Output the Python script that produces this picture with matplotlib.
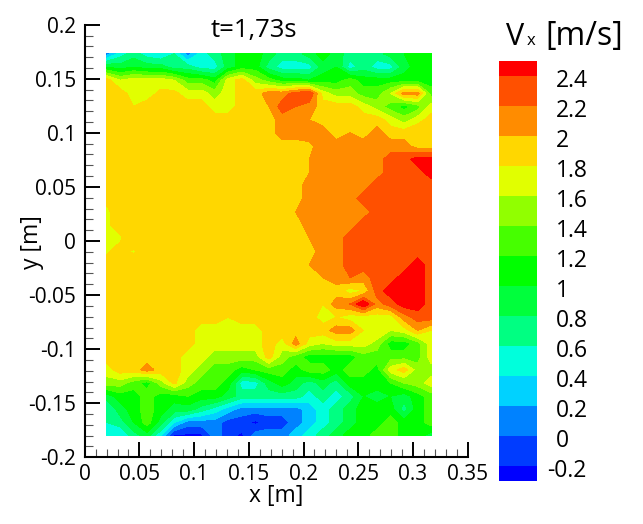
import matplotlib
matplotlib.use("Agg")
import matplotlib.pyplot as plt
from matplotlib.cm import ScalarMappable
from matplotlib.colors import BoundaryNorm, ListedColormap
import numpy as np

plt.rcParams['font.family'] = ['Open Sans', 'DejaVu Sans']

# Vx, top row first, left to right
vx_rows = [
    [0.1,0.5,0.7,0.5,0.4,0.6,0.1,0.5,0.7,0.9,1.1,1.1,0.9,0.7,0.7,0.9,1.1,0.9,0.7,0.7,0.7,0.9,1.0,1.1,1.1],
    [1.0,0.9,1.0,0.9,0.9,0.7,0.7,0.5,0.5,0.9,1.1,1.1,0.7,0.5,0.5,0.5,0.9,1.0,0.5,0.7,0.5,0.5,0.9,1.1,1.1],
    [1.9,1.6,1.7,1.7,1.7,1.6,1.3,1.3,1.1,1.7,1.9,1.5,1.3,1.1,1.1,1.0,1.1,1.1,1.3,1.1,1.1,1.1,1.1,1.1,1.1],
    [1.9,1.9,1.7,1.7,1.85,1.85,1.7,1.7,1.5,1.7,1.9,1.9,2.1,2.1,2.3,2.4,1.7,1.5,1.5,1.3,1.3,1.6,2.1,2.1,1.3],
    [1.9,1.9,1.8,1.9,1.9,1.9,1.9,1.9,1.7,1.7,1.9,1.9,2.0,2.3,2.2,2.1,1.9,1.9,1.9,1.7,1.5,1.3,1.1,1.3,1.7],
    [1.9,1.9,1.9,1.9,1.9,1.9,1.9,1.9,1.9,1.9,1.9,1.9,1.9,2.1,2.1,2.0,1.9,1.9,1.9,1.9,1.9,1.7,1.5,1.7,1.9],
    [1.9,1.9,1.85,1.9,1.9,1.9,1.9,1.9,1.9,1.9,1.9,1.9,1.9,2.1,2.1,2.1,2.1,1.9,2.0,1.9,2.1,1.9,1.9,2.0,1.9],
    [1.9,1.9,1.9,1.9,1.9,1.9,1.9,1.9,1.9,1.9,1.9,1.9,1.9,1.9,1.9,1.95,2.1,2.1,2.1,2.1,2.1,2.1,2.1,1.9,1.9],
    [1.9,1.9,1.9,1.9,1.9,1.9,1.9,1.9,1.9,1.9,1.9,1.9,1.9,1.9,1.9,2.0,2.1,2.1,2.1,2.1,2.1,2.3,2.3,2.5,2.5],
    [1.9,1.9,1.85,1.9,1.9,1.9,1.9,1.9,1.9,1.9,1.9,1.9,1.9,1.9,1.9,2.0,2.1,2.1,2.1,2.1,2.1,2.3,2.3,2.3,2.5],
    [1.85,1.9,1.9,1.9,1.9,1.9,1.9,1.9,1.9,1.9,1.9,1.9,1.9,1.9,1.9,2.1,2.1,2.1,2.1,2.1,2.3,2.3,2.3,2.3,2.3],
    [1.82,1.9,1.9,1.9,1.9,1.9,1.9,1.9,1.9,1.9,1.9,1.9,1.9,1.9,1.9,2.1,2.1,2.1,2.1,2.3,2.3,2.3,2.3,2.3,2.3],
    [1.78,1.85,1.9,1.9,1.9,1.9,1.9,1.9,1.9,1.9,1.9,1.9,1.9,1.9,2.0,2.1,2.1,2.1,2.1,2.1,2.3,2.3,2.3,2.3,2.3],
    [1.78,1.85,1.9,1.9,1.9,1.9,1.9,1.9,1.9,1.9,1.9,1.9,1.9,1.9,1.9,2.1,2.1,2.1,2.1,2.3,2.3,2.3,2.3,2.3,2.3],
    [1.78,1.78,1.9,1.9,1.9,1.9,1.9,1.9,1.9,1.9,1.9,1.9,1.9,1.9,1.9,2.0,2.1,2.1,2.3,2.3,2.3,2.3,2.3,2.3,2.3],
    [1.78,1.85,1.78,1.9,1.9,1.9,1.9,1.9,1.9,1.9,1.9,1.9,1.9,1.9,1.9,1.9,2.1,2.1,2.3,2.3,2.3,2.3,2.3,2.3,2.3],
    [1.85,1.9,1.9,1.9,1.9,1.9,1.9,1.9,1.9,1.9,1.9,1.9,1.9,1.9,1.9,2.0,2.1,2.1,2.3,2.3,2.3,2.3,2.3,2.5,2.3],
    [1.9,1.9,1.9,1.9,1.9,1.9,1.9,1.9,1.9,1.9,1.9,1.9,1.9,1.9,1.9,1.9,2.0,2.1,2.2,2.1,2.3,2.3,2.5,2.5,2.3],
    [1.9,1.9,1.85,1.9,1.9,1.9,1.9,1.9,1.9,1.9,1.9,1.9,1.9,1.9,1.9,1.9,1.9,1.9,1.7,1.8,2.3,2.5,2.5,2.5,2.3],
    [1.85,1.9,1.9,1.9,1.9,1.9,1.9,1.9,1.9,1.9,1.9,1.9,1.9,1.9,1.9,1.9,1.8,2.1,2.2,2.6,2.1,2.3,2.5,2.5,2.3],
    [1.9,1.9,1.9,1.9,1.9,1.9,1.9,1.9,1.9,1.8,1.9,1.9,1.9,1.9,1.9,1.9,1.7,1.8,1.7,1.7,1.7,1.7,2.1,2.3,2.3],
    [1.9,1.9,1.9,1.9,1.9,1.9,1.9,1.7,1.7,1.7,1.7,1.7,1.9,1.9,1.9,1.9,1.9,2.1,2.1,1.8,1.8,1.6,1.7,2.0,1.8],
    [1.9,1.9,1.9,1.9,1.9,1.9,1.9,1.7,1.7,1.7,1.7,1.7,1.9,1.7,2.1,1.7,1.6,1.7,1.7,1.7,1.5,1.1,1.1,1.3,1.7],
    [1.9,1.9,1.9,1.9,1.9,1.9,1.7,1.7,1.5,1.5,1.5,1.5,1.9,1.5,1.3,1.1,1.1,1.1,1.1,1.3,1.3,1.3,1.3,1.3,1.7],
    [1.7,1.9,1.9,2.1,1.9,1.9,1.7,1.5,1.3,1.3,1.1,1.2,1.3,1.3,1.1,1.3,1.3,1.1,1.3,1.3,1.1,1.7,1.9,1.5,1.5],
    [1.5,1.5,1.3,1.1,1.5,1.85,1.5,1.3,1.3,1.1,0.5,0.5,0.9,1.1,0.9,0.7,0.9,0.7,1.1,1.1,1.1,1.2,1.4,1.5,1.7],
    [0.9,1.1,1.1,1.3,1.1,1.1,1.2,1.1,1.1,0.9,0.7,0.7,0.7,0.7,0.7,0.5,0.7,0.5,0.7,1.0,0.9,1.0,0.9,1.1,1.3],
    [0.6,0.9,1.1,1.3,1.1,0.9,0.9,0.7,0.5,0.3,0.1,0.1,0.1,0.1,0.1,0.3,0.5,0.7,0.9,1.1,1.1,1.1,0.7,1.1,1.3],
    [0.6,0.7,1.0,1.3,0.9,0.4,0.1,0.1,0.1,-0.1,-0.1,-0.25,-0.1,-0.1,0.1,0.3,0.5,0.7,0.9,1.1,1.1,1.3,1.1,1.1,1.3],
    [0.4,0.4,0.7,0.9,0.4,-0.25,-0.25,-0.25,0.1,-0.1,-0.25,0.1,0.1,0.1,0.3,0.5,0.7,0.9,1.1,1.1,1.3,1.3,1.1,1.1,0.9],
]

x_min, x_max = 0.02, 0.3166
y_top, y_bottom = 0.173, -0.18

levels = [-0.2, 0, 0.2, 0.4, 0.6, 0.8, 1, 1.2, 1.4, 1.6, 1.8, 2, 2.2, 2.4]
bar_bounds = [-0.3] + levels + [2.5]
band_colors = ['#0000ff', '#003cff', '#0082ff', '#00d2ff', '#00ffdc',
               '#00ff82', '#00ff3c', '#00ff00', '#46ff00', '#91ff00',
               '#e1ff00', '#ffd700', '#ff8c00', '#ff5000', '#ff0000']
bar_labels = ['-0.2', '0', '0.2', '0.4', '0.6', '0.8', '1', '1.2', '1.4',
              '1.6', '1.8', '2', '2.2', '2.4']

x_ticks = [0, 0.05, 0.1, 0.15, 0.2, 0.25, 0.3, 0.35]
x_labels = ['0', '0.05', '0.1', '0.15', '0.2', '0.25', '0.3', '0.35']
y_ticks = [-0.2, -0.15, -0.1, -0.05, 0, 0.05, 0.1, 0.15, 0.2]
y_labels = ['-0.2', '-0.15', '-0.1', '-0.05', '0', '0.05', '0.1', '0.15', '0.2']

W, H = 643, 524


def px_axes(fig, left, top, right, bottom):
    return fig.add_axes([left / W, 1 - bottom / H, (right - left) / W, (bottom - top) / H])


fig = plt.figure(figsize=(W / 100, H / 100), dpi=100)
ax = px_axes(fig, 84.7, 24.7, 467.6, 457.3)

vx = np.array(vx_rows)
xs = np.linspace(x_min, x_max, vx.shape[1])
ys = np.linspace(y_top, y_bottom, vx.shape[0])
ax.contourf(xs, ys, vx, levels=levels, colors=band_colors, extend='both')

ax.set_xlim(0, 0.35)
ax.set_ylim(-0.2, 0.2)
ax.spines['top'].set_visible(False)
ax.spines['right'].set_visible(False)
ax.spines['left'].set_linewidth(1.5)
ax.spines['bottom'].set_linewidth(1.5)
ax.set_xticks(x_ticks, x_labels)
ax.set_yticks(y_ticks, y_labels)
ax.set_xticks(np.arange(0, 0.351, 0.01), minor=True)
ax.set_yticks(np.arange(-0.2, 0.201, 0.01), minor=True)
ax.tick_params(which='major', direction='in', length=11, width=1.4, labelsize=15, pad=5)
ax.tick_params(which='minor', direction='in', length=6, width=0.8, color='#555555')
ax.tick_params(axis='y', which='major', pad=6)

fig.text(276 / W, 1 - 496 / H, 'x [m]', ha='center', va='center', fontsize=16.5)
fig.text(32 / W, 1 - 242 / H, 'y [m]', ha='center', va='center', rotation=90, fontsize=16.5)
fig.text(254 / W, 1 - 30 / H, 't=1,73s', ha='center', va='center', fontsize=18.5)

fig.text(506 / W, 1 - 45 / H, 'V', ha='left', va='baseline', fontsize=22)
fig.text(527 / W, 1 - 45 / H, 'x', ha='left', va='baseline', fontsize=12)
fig.text(545 / W, 1 - 45 / H, '[m/s]', ha='left', va='baseline', fontsize=23)

cax = px_axes(fig, 499, 61, 537, 481)
norm = BoundaryNorm(bar_bounds, len(band_colors))
cbar = fig.colorbar(ScalarMappable(norm=norm, cmap=ListedColormap(band_colors)), cax=cax,
                    spacing='proportional', ticks=levels)
cbar.outline.set_visible(False)
cax.minorticks_off()
cax.tick_params(length=0, labelright=False)
for value, label in zip(levels, bar_labels):
    # labels sit a few pixels below the band edge, digits lined up on the left
    x_px = 547 if label.startswith('-') else 556
    y_frac = cax.transData.transform((0, value))[1] - 5
    fig.text(x_px / W, y_frac / H, label, ha='left', va='center', fontsize=16.5)

fig.savefig('out.png', dpi=100)
